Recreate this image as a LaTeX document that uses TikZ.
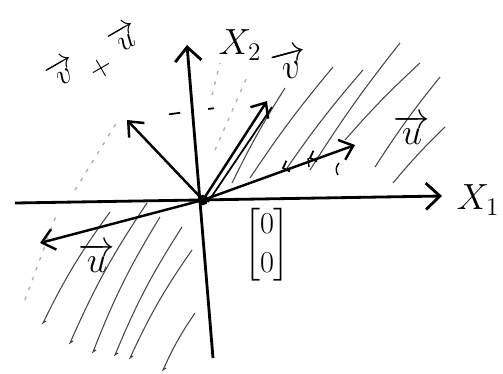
\documentclass[tikz,border=0pt]{standalone}
\usepackage{amsmath}
\usetikzlibrary{arrows.meta,calc}
\begin{document}
\begin{tikzpicture}[x=0.02cm,y=-0.02cm,
    asse/.style={line width=1.6pt,-{Straight Barb[length=8pt,width=15pt]}},
    vettore/.style={line width=1.4pt,-{Straight Barb[length=7pt,width=12pt]}},
    tratto/.style={gray!55!black,line width=0.6pt},
    puntini/.style={gray!60,line width=0.8pt,dash pattern=on 2pt off 4pt},
    etichetta/.style={font=\huge},
    storta/.style={font=\LARGE,rotate=30,inner sep=0pt}]
    \useasboundingbox (0,0) rectangle (503,373);
    %tratteggio in alto a destra
    \foreach \xa/\ya/\xb/\yb in {232/183/285/88,250/178/333/67,287/168/363/70,310/170/400/43,%
                                 345/140/420/63,375/167/440/77,393/183/445/127}
        \draw[tratto] (\xa,\ya) to[bend left=3] (\xb,\yb);
    %tratteggio in basso a sinistra
    \foreach \xa/\ya/\xb/\yb in {43/323/110/212,70/343/147/203,93/352/160/217,%
                                 115/355/182/227,130/358/192/250,163/370/195/313}
        \draw[tratto] (\xb,\yb) to[bend right=5] (\xa,\ya) --++(3,-2);
    %linee leggere
    \draw[puntini] (25,300)--(57,213) (75,190)--(117,122) (215,150)--(247,77) (212,95)--(220,63);
    %punti
    \coordinate (O) at (203,200);
    \coordinate (x1s) at (15,203);
    \coordinate (x1e) at (442,196);
    \coordinate (x2s) at (213,358);
    \coordinate (x2e) at (187,45);
    \coordinate (u) at (355,145);
    \coordinate (mu) at (40,243);
    \coordinate (w) at (127,120);
    \coordinate (v) at (267,101);
    %disegno assi
    \draw[asse] (x1s)--(x1e);
    \draw[asse] (x2s)--(x2e);
    %disegno vettori
    \draw[vettore] (O)--(u);
    \draw[vettore] (O)--(mu);
    \draw[vettore] (O)--(w);
    \draw[vettore] (O)--(v);
    \draw[line width=1pt] ($(O)+(5,2)$)--($(v)+(5,6)$);
    %segni su u
    \draw[line width=1pt] (290,171.4)--(283,168)--(286.4,160.8) %
                          (317,161.4)--(310,158)--(313.4,150.8);
    \draw[line width=0.8pt] (308,158)--++(1,9) (339,163) to[bend right=40] (338,175);
    %trattini
    \draw[line width=1pt] ($(w)!0.3!(v)$)--($(w)!0.38!(v)$) ($(w)!0.58!(v)$)--($(w)!0.62!(v)$);
    \fill (O) circle (3pt);
    %label
    \node[etichetta] (lx1) at (478,200) {$X_1$};
    \node[etichetta] (lx2) at (240,45) {$X_2$};
    \node[etichetta] (lu) at (412,130) {$\overrightarrow{u}$};
    \node[etichetta] (lmu) at (97,258) {$\overrightarrow{u}$};
    \node[etichetta,rotate=15] (lv) at (290,64) {$\overrightarrow{v}$};
    \node[storta] (lv2) at (62,72) {$\overrightarrow{v}$};
    \node[storta] (piu) at (101,68) {$+$};
    \node[storta] (lu2) at (124,38) {$\overrightarrow{u}$};
    \node[font=\LARGE] (zero) at (267,245) {$\begin{bmatrix}0\\0\end{bmatrix}$};
\end{tikzpicture}
\end{document}
